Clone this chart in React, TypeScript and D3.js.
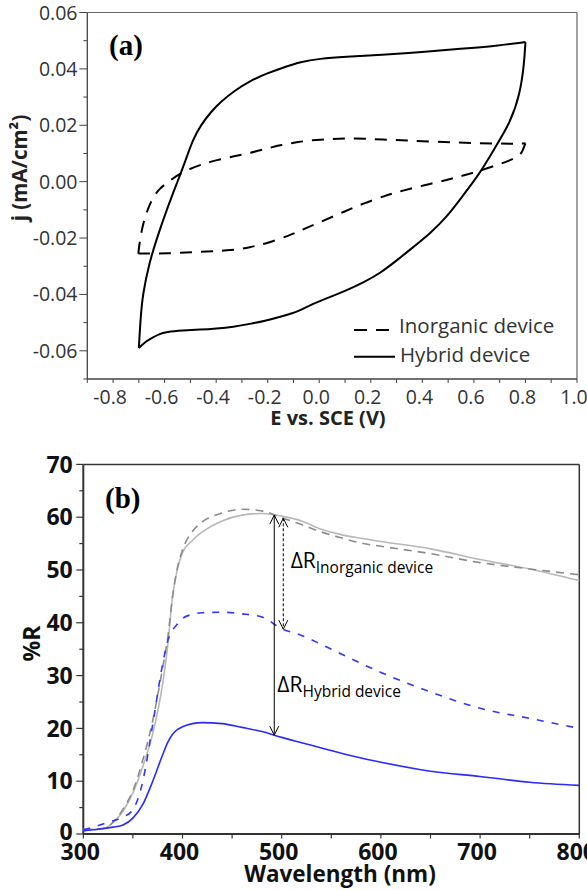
import React from 'react';
import * as d3 from 'd3';

const W = 587;
const H = 890;
const FONT = "'Open Sans', sans-serif";
const SERIF = "'Liberation Serif', 'Times New Roman', serif";

// ---------- Panel (a): cyclic voltammograms, [E (V vs SCE), j (mA/cm²)] ----------
const hybridAnodic: [number, number][] = [
  [-0.700, -0.0590], [-0.693, -0.0480], [-0.685, -0.0400], [-0.660, -0.0290], [-0.630, -0.0200],
  [-0.590, -0.0095], [-0.550, 0.0000], [-0.520, 0.0072], [-0.490, 0.0150], [-0.460, 0.0200],
  [-0.420, 0.0248], [-0.380, 0.0285], [-0.330, 0.0322], [-0.270, 0.0357], [-0.200, 0.0385],
  [-0.152, 0.0401], [-0.070, 0.0426], [0.000, 0.0436], [0.100, 0.0443], [0.240, 0.0450],
  [0.400, 0.0460], [0.550, 0.0471], [0.690, 0.0482], [0.800, 0.0495],
];
const hybridCathodic: [number, number][] = [
  [0.800, 0.0495], [0.795, 0.0420], [0.780, 0.0314], [0.741, 0.0208], [0.676, 0.0112],
  [0.624, 0.0030], [0.547, -0.0062], [0.495, -0.0125], [0.430, -0.0184], [0.366, -0.0231],
  [0.300, -0.0280], [0.236, -0.0325], [0.170, -0.0358], [0.107, -0.0385], [0.040, -0.0410],
  [-0.023, -0.0432], [-0.074, -0.0458], [-0.152, -0.0480], [-0.204, -0.0492], [-0.270, -0.0505],
  [-0.333, -0.0515], [-0.400, -0.0521], [-0.462, -0.0525], [-0.530, -0.0528], [-0.592, -0.0533],
  [-0.625, -0.0542], [-0.650, -0.0555], [-0.675, -0.0568], [-0.700, -0.0590],
];
const inorganicAnodic: [number, number][] = [
  [-0.702, -0.0255], [-0.695, -0.0200], [-0.683, -0.0148], [-0.665, -0.0095], [-0.644, -0.0054],
  [-0.620, -0.0025], [-0.592, -0.0005], [-0.555, 0.0020], [-0.514, 0.0041], [-0.460, 0.0060],
  [-0.398, 0.0077], [-0.330, 0.0090], [-0.268, 0.0102], [-0.200, 0.0118], [-0.150, 0.0130],
  [-0.080, 0.0141], [-0.023, 0.0148], [0.107, 0.0155], [0.236, 0.0150], [0.430, 0.0142],
  [0.624, 0.0136], [0.754, 0.0134], [0.800, 0.0136],
];
const inorganicCathodic: [number, number][] = [
  [0.800, 0.0136], [0.790, 0.0112], [0.780, 0.0094], [0.740, 0.0075], [0.690, 0.0059],
  [0.612, 0.0035], [0.550, 0.0020], [0.495, 0.0006], [0.430, -0.0008], [0.366, -0.0022],
  [0.300, -0.0038], [0.262, -0.0048], [0.171, -0.0077], [0.081, -0.0113], [-0.009, -0.0148],
  [-0.074, -0.0174], [-0.113, -0.0190], [-0.204, -0.0219], [-0.270, -0.0233], [-0.333, -0.0243],
  [-0.462, -0.0249], [-0.592, -0.0255], [-0.702, -0.0255],
];

const cvXMinor = d3.range(-9, 11).map((i) => i / 10);
const cvXLabels = [-0.8, -0.6, -0.4, -0.2, 0.0, 0.2, 0.4, 0.6, 0.8, 1.0];
const cvYMajor = [-0.06, -0.04, -0.02, 0.0, 0.02, 0.04, 0.06];
const cvYMinor = [-0.07, -0.05, -0.03, -0.01, 0.01, 0.03, 0.05];
const cvLegend = ['Inorganic device', 'Hybrid device'];

// ---------- Panel (b): reflectance spectra ----------
const wavelengths = [300, 310, 320, 330, 340, 350, 360, 370, 380, 385, 390, 395, 400, 410, 420, 440,
  460, 480, 500, 520, 540, 560, 580, 600, 650, 700, 750, 800];
const hybridBleached = [0.9, 0.9, 1.0, 2.2, 4.3, 7.8, 12.8, 19.0, 28.5, 35.5, 45.0, 50.3, 53.3, 55.6,
  57.2, 59.3, 60.4, 60.7, 60.2, 59.3, 57.7, 56.7, 56.0, 55.4, 54.0, 52.0, 50.2, 48.0];
const inorganicBleached = [0.7, 0.9, 1.1, 2.2, 4.7, 8.2, 14.0, 21.5, 31.5, 37.0, 45.0, 50.5, 53.8,
  57.3, 59.1, 60.8, 61.5, 61.2, 59.9, 58.6, 57.2, 56.1, 55.1, 54.5, 53.1, 51.4, 50.2, 49.1];
const inorganicColored = [0.8, 1.3, 1.9, 2.5, 3.2, 4.6, 10.0, 20.8, 32.2, 36.5, 38.6, 39.8, 40.8,
  41.6, 41.9, 42.0, 41.7, 41.1, 38.9, 37.6, 35.9, 34.1, 32.3, 30.6, 26.9, 23.8, 21.9, 20.0];
const hybridColored = [0.6, 0.8, 1.0, 1.3, 1.7, 3.0, 5.6, 10.0, 15.0, 17.3, 18.9, 19.8, 20.3, 20.9,
  21.1, 20.9, 20.2, 19.4, 18.3, 17.3, 16.3, 15.3, 14.4, 13.6, 11.9, 10.9, 9.8, 9.2];

const rXMinor = d3.range(300, 801, 50);
const rXLabels = [300, 400, 500, 600, 700, 800];
const rYMajor = [0, 10, 20, 30, 40, 50, 60, 70];
const rYMinor = [5, 15, 25, 35, 45, 55, 65];

// ΔR arrows: wavelength, upper (bleached) and lower (colored) spectra
const deltaArrows = [
  { wl: 492.5, upper: hybridBleached, lower: hybridColored, dashed: false },
  { wl: 501.6, upper: inorganicBleached, lower: inorganicColored, dashed: true },
];
// ΔR labels: anchor in data units (wavelength, %R) and subscript
const deltaLabels = [
  { wl: 509, r: 50.4, sub: 'Inorganic device' },
  { wl: 495.6, r: 26.9, sub: 'Hybrid device' },
];

export default function App() {
  // Panel (a) scales
  const xA = d3.scaleLinear().domain([-0.9, 1.0]).range([87.3, 577]);
  const yA = d3.scaleLinear().domain([-0.07, 0.06]).range([379, 12.5]);
  const lineA = d3
    .line<[number, number]>()
    .x((d) => xA(d[0]))
    .y((d) => yA(d[1]))
    .curve(d3.curveBasis);

  // Panel (b) scales
  const xB = d3.scaleLinear().domain([300, 800]).range([83.3, 579.3]);
  const yB = d3.scaleLinear().domain([0, 70]).range([834, 464.4]);
  const lineB = (vals: number[]) =>
    d3
      .line<number>()
      .x((_, i) => xB(wavelengths[i]))
      .y((v) => yB(v))
      .curve(d3.curveMonotoneX)(vals) || '';
  const interp = (vals: number[], wl: number) => d3.scaleLinear().domain(wavelengths).range(vals)(wl);

  const [ax0, ax1] = xA.range();
  const [ayB, ayT] = yA.range();
  const [bx0, bx1] = xB.range();
  const [byB, byT] = yB.range();

  const aText = '#333';
  const bText = '#111';

  const arrowHead = (x: number, y: number, dir: 1 | -1) =>
    `${x - 4.5},${y + dir * 9} ${x},${y} ${x + 4.5},${y + dir * 9}`;

  return (
    <svg
      width={W}
      height={H}
      viewBox={`0 0 ${W} ${H}`}
      style={{ position: 'absolute', left: 0, top: 0, background: '#fff' }}
    >
      <rect x={0} y={0} width={W} height={H} fill="#fff" />

      {/* ================= Panel (a) ================= */}
      <g>
        {/* frame */}
        <line x1={ax0} x2={ax1} y1={ayT} y2={ayT} stroke="#666" strokeWidth={1.2} />
        <line x1={ax1} x2={ax1} y1={ayT} y2={ayB} stroke="#666" strokeWidth={1.2} />
        <line x1={ax0} x2={ax0} y1={ayT} y2={ayB} stroke="#444" strokeWidth={1.3} />
        <line x1={ax0} x2={ax1} y1={ayB} y2={ayB} stroke="#444" strokeWidth={1.3} />

        {/* y ticks */}
        {cvYMajor.map((v) => (
          <g key={`ya${v}`}>
            <line x1={ax0 - 8} x2={ax0} y1={yA(v)} y2={yA(v)} stroke="#444" strokeWidth={1} />
            <text x={77.5} y={yA(v)} dy="0.36em" textAnchor="end" fontFamily={FONT} fontSize={19.5} fill={aText}>
              {v.toFixed(2)}
            </text>
          </g>
        ))}
        {cvYMinor.map((v) => (
          <line key={`yam${v}`} x1={ax0 - 4} x2={ax0} y1={yA(v)} y2={yA(v)} stroke="#444" strokeWidth={1} />
        ))}

        {/* x ticks */}
        {cvXMinor.map((v) => (
          <line key={`xam${v}`} x1={xA(v)} x2={xA(v)} y1={ayB} y2={ayB + 4} stroke="#444" strokeWidth={1} />
        ))}
        {cvXLabels.map((v) => (
          <text key={`xal${v}`} x={xA(v) - 3} y={403.5} textAnchor="middle" fontFamily={FONT} fontSize={19.5} fill={aText}>
            {v.toFixed(1)}
          </text>
        ))}

        {/* axis titles */}
        <text x={328} y={425} textAnchor="middle" fontFamily={FONT} fontWeight={700} fontSize={20} fill="#222">
          E vs. SCE (V)
        </text>
        <text
          transform={`translate(27,168) rotate(-90)`}
          textAnchor="middle"
          fontFamily={FONT}
          fontWeight={700}
          fontSize={20.5}
          fill="#222"
        >
          j (mA/cm²)
        </text>

        {/* voltammograms */}
        <g fill="none" stroke="#000" strokeWidth={2}>
          <path d={lineA(hybridAnodic) || ''} />
          <path d={lineA(hybridCathodic) || ''} />
        </g>
        <g fill="none" stroke="#000" strokeWidth={2} strokeDasharray="12,9">
          <path d={lineA(inorganicAnodic) || ''} />
          <path d={lineA(inorganicCathodic) || ''} />
        </g>

        {/* legend */}
        <line x1={354} x2={389} y1={330} y2={330} stroke="#000" strokeWidth={2} strokeDasharray="13,9" />
        <text x={399} y={332.7} fontFamily={FONT} fontSize={20.5} fill={aText}>
          {cvLegend[0]}
        </text>
        <line x1={354} x2={395} y1={356.7} y2={356.7} stroke="#000" strokeWidth={2} />
        <text x={400} y={361.7} fontFamily={FONT} fontSize={20.5} fill={aText}>
          {cvLegend[1]}
        </text>

        <text x={109} y={55} fontFamily={SERIF} fontWeight={700} fontSize={29} fill="#000">
          (a)
        </text>
      </g>

      {/* ================= Panel (b) ================= */}
      <g>
        <line x1={bx0} x2={bx1} y1={byT} y2={byT} stroke="#333" strokeWidth={1.5} />
        <line x1={bx1} x2={bx1} y1={byT} y2={byB} stroke="#333" strokeWidth={1.5} />
        <line x1={bx0} x2={bx0} y1={byT} y2={byB} stroke="#333" strokeWidth={2} />
        <line x1={bx0} x2={bx1} y1={byB} y2={byB} stroke="#333" strokeWidth={2} />

        {rYMajor.map((v) => (
          <g key={`yb${v}`}>
            <line x1={bx0 - 7} x2={bx0} y1={yB(v)} y2={yB(v)} stroke="#333" strokeWidth={1.2} />
            <text x={72.7} y={yB(v) - (v === 0 ? 2 : 0)} dy="0.36em" textAnchor="end" fontFamily={FONT} fontWeight={700} fontSize={23} fill={bText}>
              {v}
            </text>
          </g>
        ))}
        {rYMinor.map((v) => (
          <line key={`ybm${v}`} x1={bx0 - 4} x2={bx0} y1={yB(v)} y2={yB(v)} stroke="#333" strokeWidth={1.2} />
        ))}
        {rXMinor.map((v) => (
          <line key={`xbm${v}`} x1={xB(v)} x2={xB(v)} y1={byB} y2={byB + 4.5} stroke="#333" strokeWidth={1.2} />
        ))}
        {rXLabels.map((v) => (
          <text key={`xbl${v}`} x={xB(v) - 3} y={860} textAnchor="middle" fontFamily={FONT} fontWeight={700} fontSize={23} fill={bText}>
            {v}
          </text>
        ))}

        <text x={340} y={881.5} textAnchor="middle" fontFamily={FONT} fontWeight={700} fontSize={22.5} fill={bText}>
          Wavelength (nm)
        </text>
        <text
          transform={`translate(40,643.5) rotate(-90)`}
          textAnchor="middle"
          fontFamily={FONT}
          fontWeight={700}
          fontSize={23}
          fill={bText}
        >
          %R
        </text>

        {/* spectra */}
        <g fill="none" strokeWidth={1.6}>
          <path d={lineB(hybridBleached)} stroke="#b8b8b8" />
          <path d={lineB(inorganicBleached)} stroke="#8c8c8c" strokeDasharray="8,6" />
          <path d={lineB(inorganicColored)} stroke="#3434ff" strokeDasharray="7,8" />
          <path d={lineB(hybridColored)} stroke="#2a2aff" />
        </g>

        {/* ΔR arrows */}
        {deltaArrows.map((a, i) => {
          const x = xB(a.wl);
          const yTop = yB(interp(a.upper, a.wl));
          const yBot = yB(interp(a.lower, a.wl));
          return (
            <g key={`arr${i}`} fill="none" stroke="#000" strokeWidth={1}>
              <line x1={x} x2={x} y1={yTop} y2={yBot} strokeDasharray={a.dashed ? '3,2' : undefined} />
              <polyline points={arrowHead(x, yTop, 1)} />
              <polyline points={arrowHead(x, yBot, -1)} />
            </g>
          );
        })}

        {deltaLabels.map((l, i) => (
          <text key={`dl${i}`} x={xB(l.wl)} y={yB(l.r)} fontFamily={FONT} fontSize={21} fill="#000">
            ΔR
            <tspan fontSize={15.5} dy={5.5}>
              {l.sub}
            </tspan>
          </text>
        ))}

        <text x={105} y={508} fontFamily={SERIF} fontWeight={700} fontSize={29} fill="#000">
          (b)
        </text>
      </g>
    </svg>
  );
}
